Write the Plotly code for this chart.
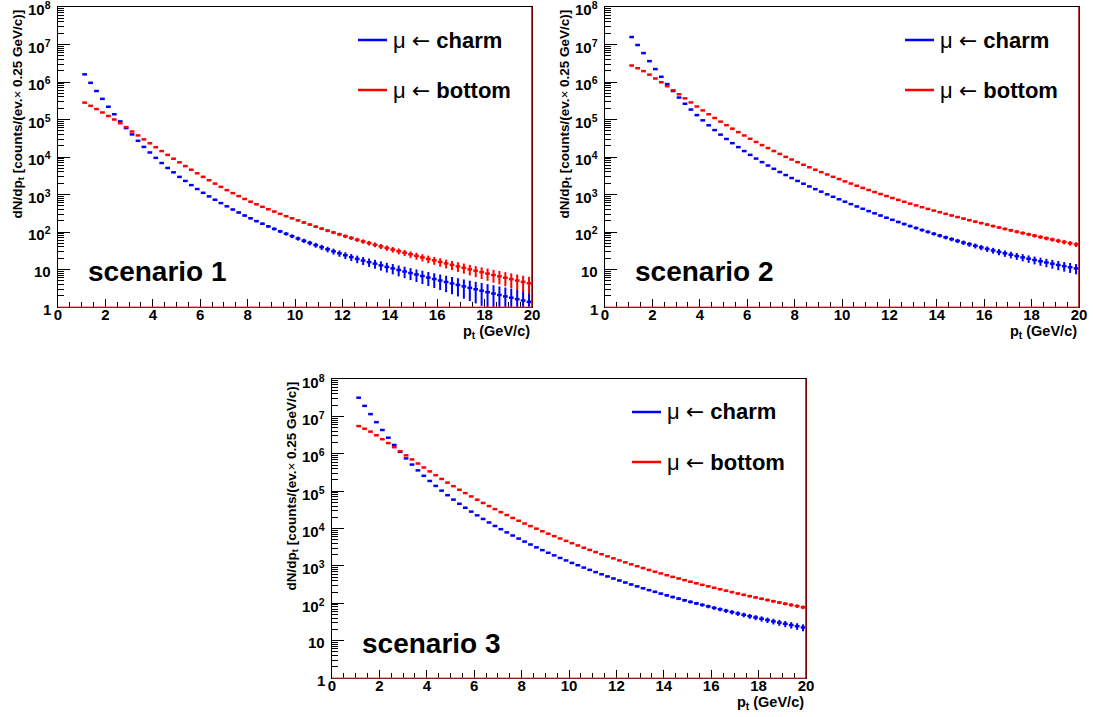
import numpy as np
import plotly.graph_objects as go

W, H = 1093, 717
FONT = "Liberation Sans"
BLUE = "#0000ff"
RED = "#ff0000"

# 0.25 GeV/c bins between 1 and 20 GeV/c (bin centres)
pt_centres = np.arange(1.0, 20.0, 0.25) + 0.125

charm_s1 = [
    1.6e6, 9.5e5, 5.75e5, 3.55e5, 2.19e5, 1.38e5, 8.9e4, 5.9e4, 4.0e4, 2.7e4,
    1.86e4, 1.32e4, 9.5e3, 6.9e3, 5.1e3, 3.9e3, 2.95e3, 2.3e3, 1.78e3, 1.4e3,
    1.11e3, 890, 725, 590, 484, 398, 331, 275, 232, 195,
    166, 141, 121, 104, 89.5, 77.4, 67.1, 58.5, 51.1, 44.7,
    39.3, 34.6, 30.5, 27.0, 24.0, 21.4, 19.1, 17.3, 15.7, 14.3,
    12.9, 11.7, 10.7, 9.7, 8.85, 8.05, 7.35, 6.7, 6.1, 5.57,
    5.08, 4.65, 4.25, 3.88, 3.55, 3.24, 2.97, 2.72, 2.49, 2.29,
    2.09, 1.92, 1.77, 1.62, 1.49, 1.37,
]
bottom_s1 = [
    2.82e5, 2.32e5, 1.9e5, 1.54e5, 1.24e5, 1.0e5, 7.94e4, 6.27e4, 4.79e4, 3.76e4,
    2.95e4, 2.32e4, 1.82e4, 1.44e4, 1.14e4, 9.0e3, 7.2e3, 5.73e3, 4.58e3, 3.68e3,
    2.96e3, 2.4e3, 1.95e3, 1.6e3, 1.31e3, 1.09e3, 906, 760, 643, 547,
    469, 405, 351, 305, 265, 232, 204, 179, 158, 139,
    123, 109, 97.3, 86.7, 77.4, 69.3, 62.2, 56.1, 50.7, 45.8,
    41.4, 37.5, 34.0, 30.8, 28.0, 25.4, 23.1, 21.0, 19.1, 17.5,
    15.9, 14.5, 13.3, 12.1, 11.1, 10.1, 9.3, 8.5, 7.8, 7.14,
    6.56, 6.03, 5.53, 5.08, 4.67, 4.29,
]
charm_s2 = [
    1.58e7, 9.7e6, 5.9e6, 3.6e6, 2.21e6, 1.38e6, 8.8e5, 5.75e5, 3.85e5, 2.63e5,
    1.84e5, 1.31e5, 9.5e4, 7.0e4, 5.22e4, 3.95e4, 3.03e4, 2.34e4, 1.84e4, 1.44e4,
    1.14e4, 9.08e3, 7.31e3, 5.93e3, 4.84e3, 3.98e3, 3.3e3, 2.75e3, 2.3e3, 1.94e3,
    1.64e3, 1.39e3, 1.19e3, 1.01e3, 869, 746, 643, 555, 480, 416,
    361, 315, 275, 240, 211, 185, 163, 144, 128, 113,
    101, 89.7, 80.2, 71.8, 64.4, 57.9, 52.2, 47.2, 42.8, 38.8,
    35.3, 32.2, 29.4, 27.0, 24.8, 22.8, 21.0, 19.4, 17.9, 16.6,
    15.4, 14.3, 13.2, 12.3, 11.5, 10.7,
]
bottom_s2 = [
    2.75e6, 2.33e6, 1.95e6, 1.57e6, 1.24e6, 9.84e5, 7.74e5, 6.05e5, 4.72e5, 3.66e5,
    2.85e5, 2.22e5, 1.75e5, 1.38e5, 1.10e5, 8.77e4, 7.05e4, 5.69e4, 4.61e4, 3.75e4,
    3.06e4, 2.52e4, 2.08e4, 1.73e4, 1.44e4, 1.21e4, 1.01e4, 8.57e3, 7.28e3, 6.21e3,
    5.32e3, 4.58e3, 3.95e3, 3.42e3, 2.96e3, 2.58e3, 2.24e3, 1.96e3, 1.71e3, 1.5e3,
    1.32e3, 1.16e3, 1.03e3, 910, 807, 718, 640, 571, 512, 459,
    413, 372, 337, 305, 276, 251, 228, 207, 189, 173,
    158, 144, 132, 121, 111, 102, 94.0, 86.5, 79.8, 73.6,
    68.1, 63.0, 58.3, 54.1, 50.2, 46.7,
]
charm_s3 = [
    3.16e7, 1.91e7, 1.15e7, 7.0e6, 4.32e6, 2.69e6, 1.72e6, 1.12e6, 7.5e5, 5.13e5,
    3.59e5, 2.57e5, 1.87e5, 1.38e5, 1.03e5, 7.78e4, 5.94e4, 4.59e4, 3.59e4, 2.83e4,
    2.25e4, 1.8e4, 1.45e4, 1.17e4, 9.6e3, 7.87e3, 6.49e3, 5.37e3, 4.47e3, 3.73e3,
    3.13e3, 2.64e3, 2.24e3, 1.91e3, 1.63e3, 1.4e3, 1.2e3, 1.04e3, 899, 782,
    681, 596, 522, 459, 406, 359, 318, 283, 252, 225,
    202, 181, 163, 147, 133, 120, 109, 99.3, 90.4, 82.4,
    75.3, 68.9, 63.1, 57.9, 53.2, 49.0, 45.1, 41.6, 38.4, 35.5,
    32.8, 30.4, 28.2, 26.1, 24.3, 22.5,
]
bottom_s3 = [
    5.5e6, 4.68e6, 3.91e6, 3.13e6, 2.45e6, 1.93e6, 1.5e6, 1.17e6, 9.06e5, 7.05e5,
    5.48e5, 4.29e5, 3.37e5, 2.67e5, 2.12e5, 1.69e5, 1.36e5, 1.09e5, 8.87e4, 7.21e4,
    5.89e4, 4.83e4, 3.98e4, 3.3e4, 2.74e4, 2.29e4, 1.92e4, 1.61e4, 1.36e4, 1.16e4,
    9.89e3, 8.45e3, 7.26e3, 6.25e3, 5.4e3, 4.67e3, 4.05e3, 3.52e3, 3.06e3, 2.67e3,
    2.34e3, 2.05e3, 1.8e3, 1.59e3, 1.4e3, 1.24e3, 1.1e3, 980, 873, 780,
    698, 627, 564, 508, 459, 416, 377, 342, 311, 284,
    259, 237, 217, 199, 182, 168, 155, 143, 132, 122,
    113, 105, 97.3, 90.4, 84.1, 78.3,
]

scenario_labels = ["scenario 1", "scenario 2", "scenario 3"]
legend_labels = [
    "\u03bc <span style='font-family:DejaVu Sans'>\u2190</span> <b>charm</b>",
    "\u03bc <span style='font-family:DejaVu Sans'>\u2190</span> <b>bottom</b>",
]
x_tickvals = [0, 2, 4, 6, 8, 10, 12, 14, 16, 18, 20]
y_tickvals = [1, 10, 1e2, 1e3, 1e4, 1e5, 1e6, 1e7, 1e8]
y_ticktext = ["1", "10"] + ["10<sup>%d</sup>" % e for e in range(2, 9)]

Y_TITLE = ("dN/dp<sub>t</sub> [counts/(ev.<span style='font-weight:normal'>\u00d7</span>"
           " 0.25 GeV/c)]")
X_TITLE = "p<sub>t</sub> (GeV/c)"

# plot frames in pixels: left, right, top, bottom
PANELS = [
    (58, 532, 7, 307),
    (605, 1079, 7, 307),
    (332, 806, 379, 678),
]


def px(x):
    return x / W


def py(y):
    return 1 - y / H


fig = go.Figure()
shapes, annotations = [], []
series = [(charm_s1, bottom_s1), (charm_s2, bottom_s2), (charm_s3, bottom_s3)]

for i, (charm, bottom) in enumerate(series):
    n = "" if i == 0 else str(i + 1)
    left, right, top, bot = PANELS[i]

    for vals, col in ((charm, BLUE), (bottom, RED)):
        vals = np.asarray(vals, dtype=float)
        fig.add_trace(go.Scatter(
            x=pt_centres, y=vals, xaxis="x" + n, yaxis="y" + n,
            mode="markers", marker=dict(size=1, color=col, opacity=0),
            error_x=dict(type="constant", value=0.1, width=0, thickness=2.5, color=col),
            error_y=dict(type="data", array=np.sqrt(vals), width=0, thickness=2, color=col),
            showlegend=False, hoverinfo="skip",
        ))

    fig.layout["xaxis" + n] = dict(
        domain=[px(left), px(right)], anchor="y" + n, range=[0, 20], automargin=False,
        tickmode="array", tickvals=x_tickvals, ticklabelstandoff=-6,
        ticks="inside", ticklen=8, tickwidth=1, tickcolor="black",
        minor=dict(dtick=0.5, tick0=0, ticks="inside", ticklen=5, tickcolor="black"),
        showline=True, linecolor="black", linewidth=1, mirror=True,
        showgrid=False, zeroline=False,
        tickfont=dict(family=FONT, size=15, color="black", weight="bold"),
    )
    fig.layout["yaxis" + n] = dict(
        domain=[py(bot), py(top)], anchor="x" + n, type="log", range=[0, 8],
        automargin=False, showticklabels=False,
        tickmode="array", tickvals=y_tickvals,
        ticks="inside", ticklen=12, tickwidth=1, tickcolor="black",
        minor=dict(dtick="D1", ticks="inside", ticklen=6, tickcolor="black"),
        showline=True, linecolor="black", linewidth=1, mirror=True,
        showgrid=False, zeroline=False,
    )

    # y tick labels, centred like ROOT's (superscript included)
    for val, txt in zip(y_tickvals, y_ticktext):
        annotations.append(dict(text=txt, xref="x%s domain" % n, yref="y" + n,
                                x=0, y=np.log10(val), xanchor="right", yanchor="middle",
                                xshift=-5, yshift=-2, showarrow=False,
                                font=dict(family=FONT, size=15, color="black", weight="bold")))

    # red baseline and right edge left by the histograms
    shapes.append(dict(type="line", xref="paper", yref="paper",
                       x0=px(left), x1=px(right), y0=py(bot), y1=py(bot),
                       line=dict(color="rgb(255,70,70)", width=1.2)))
    shapes.append(dict(type="line", xref="paper", yref="paper",
                       x0=px(right), x1=px(right), y0=py(bot), y1=py(top),
                       line=dict(color="#a00000", width=1.5)))

    # legend
    dx, dy = left - 58, top - 7
    for j, (lab, col) in enumerate(zip(legend_labels, (BLUE, RED))):
        yy = 40 + 50 * j + dy
        shapes.append(dict(type="line", xref="paper", yref="paper",
                           x0=px(358 + dx), x1=px(387 + dx), y0=py(yy), y1=py(yy),
                           line=dict(color=col, width=2.5)))
        annotations.append(dict(text=lab, xref="paper", yref="paper",
                                x=px(391 + dx), y=py(yy), xanchor="left", yanchor="middle",
                                showarrow=False,
                                font=dict(family=FONT, size=22, color="black")))

    annotations.append(dict(text="<b>%s</b>" % scenario_labels[i], xref="paper", yref="paper",
                            x=px(86 + dx), y=py(271 + dy), xanchor="left", yanchor="middle",
                            showarrow=False, font=dict(family=FONT, size=28, color="black")))
    annotations.append(dict(text=Y_TITLE, xref="paper", yref="paper", textangle=-90,
                            x=px(left - 40), y=py(top + 1), xanchor="center", yanchor="top",
                            showarrow=False,
                            font=dict(family=FONT, size=13.5, color="black", weight="bold")))
    annotations.append(dict(text=X_TITLE, xref="paper", yref="paper",
                            x=px(right), y=py(bot + 25), xanchor="right", yanchor="middle",
                            showarrow=False,
                            font=dict(family=FONT, size=14.5, color="black", weight="bold")))

fig.update_layout(
    width=W, height=H, autosize=False,
    margin=dict(l=0, r=0, t=0, b=0),
    paper_bgcolor="white", plot_bgcolor="white",
    shapes=shapes, annotations=annotations,
    showlegend=False,
)

fig.write_html("out.html", config={"displayModeBar": False},
               post_script="document.body.style.margin = '0';")
